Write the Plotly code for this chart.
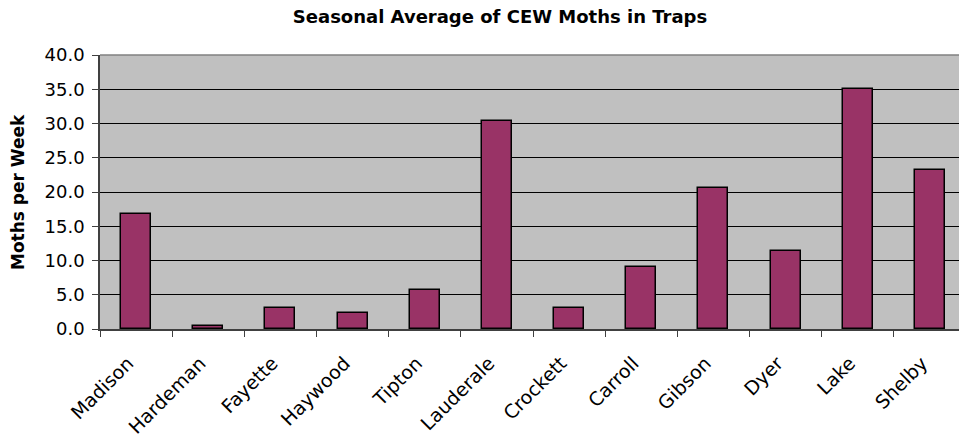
import plotly.graph_objects as go

counties = ["Madison", "Hardeman", "Fayette", "Haywood", "Tipton", "Lauderale",
            "Crockett", "Carroll", "Gibson", "Dyer", "Lake", "Shelby"]
moths_per_week = [16.8, 0.5, 3.1, 2.3, 5.7, 30.4, 3.1, 9.1, 20.6, 11.4, 35.0, 23.2]
y_ticks = [0, 5, 10, 15, 20, 25, 30, 35, 40]

W, H = 959, 437
ML, MR, MT, MB = 100, 0, 55, 108
plot_w = W - ML - MR
cat_px = 72.17
x_right = -0.5 + plot_w / cat_px

fig = go.Figure()
fig.add_trace(go.Bar(
    x=counties, y=moths_per_week, width=0.415,
    marker=dict(color="#993366", line=dict(color="#000000", width=1.5)),
    hoverinfo="x+y",
))

font = "DejaVu Sans, Arial, sans-serif"
fig.update_layout(
    width=W, height=H,
    margin=dict(l=ML, r=MR, t=MT, b=MB, pad=0),
    paper_bgcolor="#FFFFFF", plot_bgcolor="#C0C0C0",
    showlegend=False,
    bargap=0.0,
    font=dict(family=font, size=18, color="#000000"),
    title=dict(text="<b>Seasonal Average of CEW Moths in Traps</b>",
               font=dict(family=font, size=18, color="#000000"),
               xref="container", x=500 / W, xanchor="center",
               yref="container", y=1 - 17 / H, yanchor="middle"),
    xaxis=dict(type="category", range=[-0.5, x_right],
               tickson="boundaries", ticks="outside", ticklen=6,
               tickcolor="#404040", tickwidth=1,
               showline=True, linecolor="#404040", linewidth=1.5,
               showgrid=False, tickangle=-45,
               ticklabelstandoff=14, ticklabelshift=-8,
               tickfont=dict(family=font, size=19, color="#000000")),
    yaxis=dict(range=[0, 40], tickvals=y_ticks, tickformat=".1f",
               ticks="outside", ticklen=6, tickcolor="#404040", tickwidth=1,
               showline=True, linecolor="#404040", linewidth=1.5,
               showgrid=True, gridcolor="#000000", gridwidth=1,
               zeroline=False, ticklabelstandoff=4,
               tickfont=dict(family=font, size=18, color="#000000")),
    annotations=[dict(text="<b>Moths per Week</b>", textangle=-90,
                      xref="paper", x=(18 - ML) / plot_w, xanchor="center",
                      yref="paper", y=0.5, yanchor="middle", showarrow=False,
                      font=dict(family=font, size=17, color="#000000"))],
    shapes=[dict(type="line", xref="paper", yref="paper", x0=0, x1=1, y0=1, y1=1,
                 line=dict(color="#808080", width=1.5))],
)

fig.write_html("out.html")
